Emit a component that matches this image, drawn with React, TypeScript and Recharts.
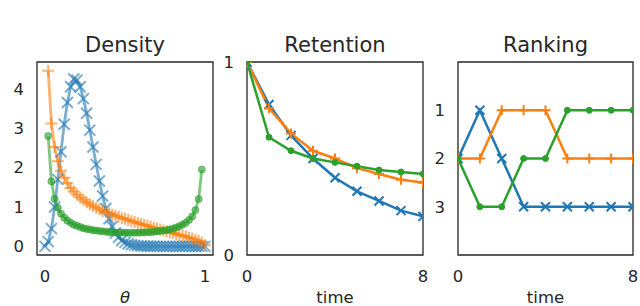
import { LineChart, Line, XAxis, YAxis, ReferenceArea } from "recharts";

const FONT = "DejaVu Sans";
const INK = "#262626";
const BLUE = "#1f77b4";
const ORANGE = "#ff7f0e";
const GREEN = "#2ca02c";

// density panel, theta from 0 to 1 in steps of 0.02
const theta = [
  0, 0.02, 0.04, 0.06, 0.08, 0.1, 0.12, 0.14, 0.16, 0.18, 0.2, 0.22, 0.24, 0.26, 0.28, 0.3, 0.32,
  0.34, 0.36, 0.38, 0.4, 0.42, 0.44, 0.46, 0.48, 0.5, 0.52, 0.54, 0.56, 0.58, 0.6, 0.62, 0.64,
  0.66, 0.68, 0.7, 0.72, 0.74, 0.76, 0.78, 0.8, 0.82, 0.84, 0.86, 0.88, 0.9, 0.92, 0.94, 0.96,
  0.98, 1,
];
const densityBlue = [
  0, 0.12, 0.45, 1.0, 1.7, 2.4, 3.1, 3.65, 4.05, 4.25, 4.22, 4.05, 3.75, 3.38, 2.95, 2.52, 2.08,
  1.66, 1.28, 0.96, 0.7, 0.5, 0.34, 0.23, 0.15, 0.1, 0.065, 0.04, 0.025, 0.015, 0.01, 0.006, 0.004,
  0.002, 0.001, 0, 0, 0, 0, 0, 0, 0, 0, 0, 0, 0, 0, 0, 0, 0, 0,
];
const densityOrange = [
  null, 4.46, 3.12, 2.52, 2.16, 1.92, 1.74, 1.6, 1.48, 1.39, 1.31, 1.24, 1.18, 1.12, 1.07, 1.02,
  0.98, 0.94, 0.9, 0.87, 0.84, 0.81, 0.78, 0.75, 0.72, 0.7, 0.67, 0.64, 0.62, 0.59, 0.57, 0.54,
  0.52, 0.5, 0.47, 0.45, 0.43, 0.4, 0.38, 0.36, 0.34, 0.31, 0.29, 0.27, 0.25, 0.22, 0.2, 0.17,
  0.14, 0.1, 0.03,
];
const densityGreen = [
  null, 2.8, 1.65, 1.21, 0.98, 0.83, 0.73, 0.65, 0.6, 0.55, 0.52, 0.49, 0.46, 0.44, 0.43, 0.41,
  0.4, 0.39, 0.38, 0.37, 0.36, 0.36, 0.35, 0.35, 0.35, 0.345, 0.344, 0.344, 0.345, 0.346, 0.35,
  0.35, 0.36, 0.36, 0.37, 0.38, 0.39, 0.4, 0.41, 0.43, 0.45, 0.48, 0.51, 0.55, 0.6, 0.67, 0.76,
  0.92, 1.2, 1.95, null,
];

const time = [0, 1, 2, 3, 4, 5, 6, 7, 8];
const retentionBlue = [1, 0.78, 0.62, 0.5, 0.4, 0.33, 0.28, 0.23, 0.2];
const retentionOrange = [1, 0.76, 0.63, 0.54, 0.5, 0.45, 0.42, 0.39, 0.375];
const retentionGreen = [1, 0.61, 0.54, 0.5, 0.48, 0.46, 0.44, 0.43, 0.42];

const rankingBlue = [2, 1, 2, 3, 3, 3, 3, 3, 3];
const rankingOrange = [2, 2, 1, 1, 1, 2, 2, 2, 2];
const rankingGreen = [2, 3, 3, 2, 2, 1, 1, 1, 1];

const densityData = theta.map((x, i) => ({
  x,
  blue: densityBlue[i],
  orange: densityOrange[i],
  green: densityGreen[i],
}));
const retentionData = time.map((x, i) => ({
  x,
  blue: retentionBlue[i],
  orange: retentionOrange[i],
  green: retentionGreen[i],
}));
const rankingData = time.map((x, i) => ({
  x,
  blue: rankingBlue[i],
  orange: rankingOrange[i],
  green: rankingGreen[i],
}));

type Shape = "x" | "plus" | "circle";

function makeDot(shape: Shape, color: string, size: number, opacity: number) {
  return (props: any) => {
    const { cx, cy, index } = props;
    if (cx == null || cy == null || !isFinite(cx) || !isFinite(cy)) return <g key={index} />;
    const h = size / 2;
    if (shape === "circle") {
      return (
        <circle key={index} cx={cx} cy={cy} r={h} fill={color} fillOpacity={opacity}
          stroke={color} strokeOpacity={opacity} strokeWidth={1} />
      );
    }
    const d =
      shape === "x"
        ? `M${cx - h},${cy - h}L${cx + h},${cy + h}M${cx - h},${cy + h}L${cx + h},${cy - h}`
        : `M${cx - h},${cy}L${cx + h},${cy}M${cx},${cy - h}L${cx},${cy + h}`;
    return <path key={index} d={d} stroke={color} strokeWidth={2} strokeOpacity={opacity} fill="none" />;
  };
}

type PanelProps = {
  left: number;
  width: number;
  yAxisWidth: number;
  marginRight: number;
  title: string;
  xLabel: string;
  italicLabel?: boolean;
  data: any[];
  xDomain: [number, number];
  xTicks: number[];
  yDomain: [number, number];
  yTicks: number[];
  reversed?: boolean;
  faded?: boolean;
};

function Panel(p: PanelProps) {
  const op = p.faded ? 0.6 : 1;
  const mk = p.faded ? 11 : 9;
  const r = p.faded ? 7 : 6;
  const lw = p.faded ? 2.8 : 2.5;
  const tickStyle = { fontFamily: FONT, fontSize: 16.5, fill: INK };
  return (
    <div style={{ position: "absolute", left: p.left, top: 0 }}>
      <LineChart width={p.width} height={306} data={p.data}
        margin={{ top: 0, right: p.marginRight, left: 0, bottom: 0 }}>
        <XAxis xAxisId="top" orientation="top" dataKey="x" type="number" domain={p.xDomain}
          allowDataOverflow height={62} tick={false} tickLine={false} axisLine={false}
          label={{ value: p.title, position: "insideTop", offset: 37, fill: INK, fontSize: 21, fontFamily: FONT }} />
        <XAxis dataKey="x" type="number" domain={p.xDomain} ticks={p.xTicks} allowDataOverflow
          height={51} tickSize={0} tickMargin={15} axisLine={false} tickLine={false} tick={tickStyle}
          label={{ value: p.xLabel, position: "insideBottom", offset: 3, fill: INK, fontSize: 16.5,
            fontFamily: FONT, fontStyle: p.italicLabel ? "italic" : "normal" }} />
        <YAxis type="number" domain={p.yDomain} ticks={p.yTicks} allowDataOverflow reversed={p.reversed}
          width={p.yAxisWidth} tickSize={0} tickMargin={13} axisLine={false} tickLine={false} tick={tickStyle} />
        <ReferenceArea x1={p.xDomain[0]} x2={p.xDomain[1]} y1={p.yDomain[0]} y2={p.yDomain[1]}
          fill="none" fillOpacity={0} stroke={INK} strokeWidth={1.3} ifOverflow="extendDomain" />
        <Line type="linear" dataKey="blue" stroke={BLUE} strokeWidth={lw} strokeOpacity={op}
          dot={makeDot("x", BLUE, mk, op)} activeDot={false} isAnimationActive={false} />
        <Line type="linear" dataKey="orange" stroke={ORANGE} strokeWidth={lw} strokeOpacity={op}
          dot={makeDot("plus", ORANGE, mk + 1, op)} activeDot={false} isAnimationActive={false} />
        <Line type="linear" dataKey="green" stroke={GREEN} strokeWidth={lw} strokeOpacity={op}
          dot={makeDot("circle", GREEN, r, op)} activeDot={false} isAnimationActive={false} />
      </LineChart>
    </div>
  );
}

export default function App() {
  return (
    <div style={{ position: "fixed", left: 0, top: 0, width: 640, height: 306, background: "#fff", overflow: "hidden" }}>
      <Panel left={0} width={223} yAxisWidth={37} marginRight={10} title="Density" xLabel="θ" italicLabel
        data={densityData} xDomain={[-0.05, 1.05]} xTicks={[0, 1]} yDomain={[-0.22, 4.68]} yTicks={[0, 1, 2, 3, 4]} faded />
      <Panel left={213} width={220} yAxisWidth={34} marginRight={10} title="Retention" xLabel="time"
        data={retentionData} xDomain={[0, 8]} xTicks={[0, 8]} yDomain={[0, 1]} yTicks={[0, 1]} />
      <Panel left={423} width={217} yAxisWidth={35} marginRight={7} title="Ranking" xLabel="time"
        data={rankingData} xDomain={[0, 8]} xTicks={[0, 8]} yDomain={[0, 4]} yTicks={[1, 2, 3]} reversed />
    </div>
  );
}
